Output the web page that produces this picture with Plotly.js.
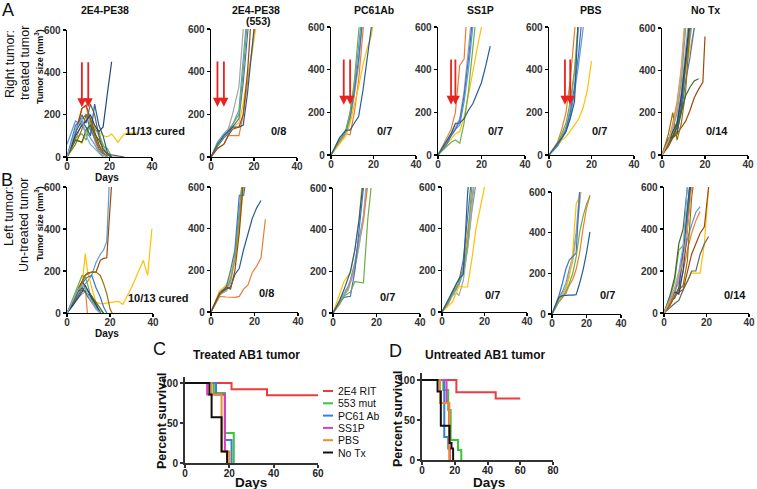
<!DOCTYPE html>
<html><head><meta charset="utf-8">
<script src="https://cdn.plot.ly/plotly-3.0.1.min.js"></script>
<style>html,body{margin:0;padding:0;background:#fff}#chart{width:757px;height:489px}</style>
</head><body><div id="chart"></div>
<script>
// ---------- DATA ----------
const lineColors = ['#5B9BD5','#ED7D31','#A5A5A5','#FFC000','#4472C4','#70AD47','#255E91','#9E480E','#636363','#997300','#264478','#43682B','#7CAFDD','#F1975A'];
const panelTitles = ['2E4-PE38','2E4-PE38','PC61Ab','SS1P','PBS','No Tx'];
const curedTop = ['11/13 cured','0/8','0/7','0/7','0/7','0/14'];
const curedBottom = ['10/13 cured','0/8','0/7','0/7','0/7','0/14'];
const treatDays = [[7,10],[3,6],[6,9],[6,8],[7.5,10]];
const sizeTicks = [0,200,400,600];
const dayTicks = [0,20,40];

// Top row: right (treated) tumor
const a1Days = [0,4,7,9,11,13,15,17,19,21,24,27,30,34];
const a1Vals = [
 [60,170,150,120,90,60,20,0],
 [0,120,230,240,150,80,30,0],
 [0,80,160,100,180,140,100,60,10,0,0],
 [0,90,65,110,140,150,120,100,95,110,70,110,113,113],
 [0,150,180,200,130,90,40,10,0],
 [0,90,110,80,170,130,120,50,40,0],
 [0,120,170,140,100,250,150,100,20,0],
 [0,110,229,245,180,120,60,20,0],
 [0,120,200,160,250,200,100,30,15,10,5,0],
 [0,60,130,200,180,100,50,20,0],
 [0,100,150,170,200,150,120,142,300,450],
 [0,80,70,130,150,110,80,40,10,0],
 [0,130,180,100,60,40,20,10,0]
];
const a2Days = [0,3,6,8,10,13,15,17,19,21,23];
const a2Vals = [
 [0,70,110,130,150,220,450,700],
 [0,40,60,100,100,100,200,350,480,650],
 [0,60,100,130,200,330,600,800],
 [0,60,100,120,140,160,250,380,480,620],
 [0,50,90,110,140,180,350,600,800],
 [0,50,100,120,150,200,400,650],
 [0,60,100,120,140,140,150,300,500,700],
 [0,40,60,100,130,140,200,400,700]
];
const a3Days = [0,4,7,9,11,13,15,17,19,21];
const a3Vals = [
 [0,60,120,200,320,500,700],
 [0,60,100,95,200,350,600,800],
 [0,65,100,160,280,420,650],
 [0,50,90,150,230,320,420,500,560,700],
 [0,70,110,180,300,450,650],
 [0,70,110,200,350,600,800],
 [0,80,117,117,150,180,300,450,600,800]
];
const a4Days = [0,4,6,8,10,12,14,16,18,20,22,24];
const a4Vals = [
 [0,60,90,120,140,250,400,600,800],
 [0,80,120,200,420,450,800],
 [0,60,100,130,170,300,500,700],
 [0,50,80,100,110,180,280,400,500,600,750],
 [0,50,90,120,160,280,450,650],
 [0,40,60,70,55,150,300,500,700],
 [0,70,100,148,150,170,210,240,290,340,420,510]
];
const a5Days = [0,4,6,8,10,12,14,16,18,20];
const a5Vals = [
 [0,40,75,110,180,290,430,580,750],
 [0,60,120,200,350,600,800],
 [0,55,90,130,220,380,600,800],
 [0,50,70,85,110,140,170,220,300,440],
 [0,45,80,120,200,320,480,700],
 [0,50,100,150,250,400,650],
 [0,50,80,110,170,250,700]
];
const a6Days = [0,3,5,7,9,11,13,15,17,19,20];
const a6Vals = [
 [0,50,90,130,230,400,560,700],
 [0,60,150,250,400,650],
 [0,60,100,160,300,500,700],
 [0,60,100,150,250,400,500,600],
 [0,80,90,110,200,350,460,600],
 [0,60,120,200,350,600],
 [0,80,85,100,230,440,600],
 [0,40,80,100,130,160,210,270,310,343,560],
 [0,50,90,140,260,420,600],
 [0,100,200,70,150,300,600],
 [0,70,110,150,280,460,650],
 [0,50,90,130,200,280,320,350,360],
 [0,70,130,210,380,650],
 [0,65,140,230,420,700]
];

// Bottom row: left (untreated) tumor
const b1Days = [0,3,5,7,8.5,9.5,11.5,13.5,15.5,17,18.5,20,21,24,26,30,35.5,37.5,39.5];
const b1Vals = [
 [0,50,90,120,140,150,180,240,280,300,340,700],
 [0,60,100,150,120,0],
 [0,40,70,90,100,90,60,20,0],
 [0,60,100,130,283,203,120,52,44,45,48,52,52,55,41,120,251,179,401],
 [0,50,100,140,160,170,179,120,76,30,0],
 [0,80,130,179,171,140,60,30,10,0],
 [0,60,110,150,130,110,80,40,0],
 [0,60,110,150,180,190,195,195,251,260,263,500,650],
 [0,40,80,110,100,80,50,20,0],
 [0,50,100,150,179,185,195,195,179,140,92,20,0],
 [0,40,70,100,130,110,70,40,0],
 [0,60,100,120,100,90,80,50,20,0],
 [0,70,110,130,120,90,50,20,0]
];
const b2Days = [0,4,7,9,11,13,15,17,19,21,23,25];
const b2Vals = [
 [0,100,110,150,280,500,700],
 [0,75,72,70,70,75,110,130,190,220,260,445],
 [0,85,100,140,260,420,650],
 [0,100,130,170,260,400,600,800],
 [0,90,120,200,300,560,560,700],
 [0,80,110,160,250,450,700],
 [0,90,110,120,180,210,300,380,450,500,535],
 [0,90,120,110,200,380,650]
];
const b3Days = [0,3,5,7,8,10,12,14,16,18];
const b3Vals = [
 [0,55,95,130,160,240,360,460,650],
 [0,40,80,120,150,220,330,440,620],
 [0,50,85,110,140,210,320,470,700],
 [0,90,150,180,190,300,450,700],
 [0,50,75,78,80,200,400,600,750],
 [0,50,80,95,100,150,148,145,450,650],
 [0,60,110,170,200,300,450,650]
];
const b4Days = [0,3,5,7,8,10,12,14,16,18,20];
const b4Vals = [
 [0,40,80,110,130,190,300,480,620],
 [0,45,90,120,140,220,380,560,700],
 [0,60,80,90,80,150,300,500,700],
 [0,30,50,100,125,120,120,250,400,500,600],
 [0,50,100,140,150,250,450,650],
 [0,50,90,120,140,200,330,600],
 [0,60,100,140,160,180,560,800]
];
const b5Days = [0,4,6,8,10,12,14,16,18,20,22];
const b5Vals = [
 [0,80,110,150,220,280,400,600],
 [0,60,80,100,140,170,220,300,420,520,584],
 [0,70,100,130,190,260,380,550,700],
 [0,70,90,120,180,300,540,580,700],
 [0,90,150,220,265,285,300,600],
 [0,60,80,110,150,200,280,400,480,540,580],
 [0,80,90,93,93,93,95,150,216,300,404]
];
const b6Days = [0,3,5,7,9,11,13,15,17,19,21];
const b6Vals = [
 [0,50,100,150,250,350,420,480,507],
 [0,50,90,120,200,300,380,440,483],
 [0,55,100,150,250,420,650],
 [0,40,80,110,130,150,190,190,190,330,600],
 [0,60,100,180,300,500,700],
 [0,80,150,300,320,450,700],
 [0,60,70,120,280,500,700],
 [0,40,80,100,110,200,280,330,380,410,600],
 [0,30,45,60,110,150,200,200,280,330,364],
 [0,50,80,110,130,250,550,700],
 [0,70,100,90,200,400,650],
 [0,90,170,330,400,600],
 [0,70,120,200,320,600],
 [0,60,110,180,250,400,600]
];

// Survival
const survNames = ['2E4 RIT','553 mut','PC61 Ab','SS1P','PBS','No Tx'];
const survColors = ['#EE3B3B','#3CC43C','#3B7DDD','#D63FC0','#F28C28','#111111'];
const cDays = [[0,21,37,60],[0,13,18,22],[0,14,18,21],[0,10,18,19],[0,12,16.5,20],[0,11,12,16.5,19]];
const cSurv = [[100,92.3,84.6,84.6],[100,87.5,37.5,0],[100,85.7,28.6,0],[100,85.7,14.3,0],[100,85.7,14.3,0],[100,85.7,57.1,14.3,0]];
const dDays = [[0,21,45,60],[0,13,16,17.5,22,24],[0,13.6,16,17],[0,15,16.5,17],[0,11,16.7],[0,9.5,11.5,16.8,18,19]];
const dSurv = [[100,84.6,76.9,76.9],[100,87.5,62.5,25,12.5,0],[100,28.6,14.3,0],[100,71.4,14.3,0],[100,71.4,0],[100,85.7,42.9,21.4,14.3,0]];
const survYTicks = [0,50,100];
const cXTicks = [0,20,40,60];
const dXTicks = [0,20,40,60,80];

// ---------- LAYOUT ----------
const W = 757, H = 489;
const fx = p => p / W;
const fy = p => 1 - p / H;
const FONT = 'Liberation Sans, Arial, sans-serif';

const growth = [
 {days:a1Days, vals:a1Vals, xd:[67,152], yd:[30,157]},
 {days:a2Days, vals:a2Vals, xd:[211,297], yd:[29,157]},
 {days:a3Days, vals:a3Vals, xd:[331,416], yd:[27,155]},
 {days:a4Days, vals:a4Vals, xd:[438,525], yd:[27,155]},
 {days:a5Days, vals:a5Vals, xd:[549,634], yd:[27,155]},
 {days:a6Days, vals:a6Vals, xd:[662,748], yd:[28,155]},
 {days:b1Days, vals:b1Vals, xd:[67,153], yd:[187,313]},
 {days:b2Days, vals:b2Vals, xd:[211,298], yd:[187,312]},
 {days:b3Days, vals:b3Vals, xd:[333,420], yd:[188,313]},
 {days:b4Days, vals:b4Vals, xd:[442,527], yd:[187,312]},
 {days:b5Days, vals:b5Vals, xd:[552,621], yd:[192,314]},
 {days:b6Days, vals:b6Vals, xd:[664,749], yd:[187,313]}
];

const traces = [];
const layout = {
  width: W, height: H, margin:{l:0,r:0,t:0,b:0},
  paper_bgcolor:'#fff', plot_bgcolor:'rgba(0,0,0,0)',
  showlegend:false, font:{family:FONT, color:'#111'},
  annotations:[], shapes:[]
};
const tickFont = {family:FONT, size:10, color:'#333', weight:'bold'};

function axName(k){ return k===1 ? '' : String(k); }

growth.forEach((g, idx) => {
  const k = idx + 1, s = axName(k);
  layout['xaxis'+s] = {domain:[fx(g.xd[0]), fx(g.xd[1])], range:[0,40], tickvals:dayTicks, anchor:'y'+s,
    showline:true, linecolor:'#000', linewidth:1.3, ticks:'outside', ticklen:3, tickwidth:1.3, tickcolor:'#000',
    ticklabelstandoff:-3,
    showgrid:false, zeroline:false, tickfont:tickFont, fixedrange:true};
  layout['yaxis'+s] = {domain:[fy(g.yd[1]), fy(g.yd[0])], range:[0,600], tickvals:sizeTicks, anchor:'x'+s,
    showline:true, linecolor:'#000', linewidth:1.3, ticks:'outside', ticklen:3, tickwidth:1.3, tickcolor:'#000',
    showgrid:false, zeroline:false, tickfont:tickFont, fixedrange:true};
  g.vals.forEach((v, i) => {
    traces.push({x:g.days.slice(0, v.length), y:v, type:'scatter', mode:'lines', xaxis:'x'+s, yaxis:'y'+s,
      line:{color:lineColors[i % lineColors.length], width:1.2}, hoverinfo:'skip'});
  });
});

// treatment arrows (top row)
treatDays.forEach((td, p) => {
  const s = axName(p+1);
  td.forEach(d => {
    layout.annotations.push({x:d, y:235, ax:d, ay:455, xref:'x'+s, yref:'y'+s, axref:'x'+s, ayref:'y'+s,
      showarrow:true, arrowhead:2, arrowsize:1, arrowwidth:1.8, arrowcolor:'#E8231F', text:''});
  });
});

// survival axes
function survAxes(k, xd, yd, yTop, xMax, xt){
  const s = axName(k);
  const common = {showline:true, linecolor:'#333', linewidth:2, ticks:'outside', ticklen:3, tickwidth:2, tickcolor:'#333',
    showgrid:false, zeroline:false, tickfont:{family:FONT, size:10, color:'#222', weight:'bold'}, fixedrange:true};
  layout['xaxis'+s] = Object.assign({domain:[fx(xd[0]),fx(xd[1])], range:[0,xMax], tickvals:xt, anchor:'y'+s, ticklabelstandoff:-3}, common);
  layout['yaxis'+s] = Object.assign({domain:[fy(yd[1]),fy(yd[0])], range:[0,yTop], tickvals:survYTicks, anchor:'x'+s}, common);
}
survAxes(13, [185,318], [377,463], 107.5, 60, cXTicks);
survAxes(14, [422,553], [373,460], 108.75, 80, dXTicks);

[[cDays,cSurv,'13'],[dDays,dSurv,'14']].forEach(([dd, ss, s]) => {
  dd.forEach((x, i) => {
    traces.push({x:x, y:ss[i], type:'scatter', mode:'lines', xaxis:'x'+s, yaxis:'y'+s,
      line:{color:survColors[i], width:2, shape:'hv'}, hoverinfo:'skip', cliponaxis:false});
  });
});
// legend for survival (keys + text)
survNames.forEach((n, i) => {
  const yy = 391 + i*12.3;
  layout.shapes.push({type:'line', xref:'paper', yref:'paper', x0:fx(323), x1:fx(333), y0:fy(yy), y1:fy(yy),
    line:{color:survColors[i], width:2}});
  layout.annotations.push({xref:'paper', yref:'paper', x:fx(336), y:fy(yy), xanchor:'left', yanchor:'middle',
    text:n, showarrow:false, font:{family:FONT, size:10.5, color:'#111'}});
});

// ---------- TEXT ----------
function txt(t, x, y, size, opts){
  layout.annotations.push(Object.assign({xref:'paper', yref:'paper', x:fx(x), y:fy(y), xanchor:'center', yanchor:'middle',
    text:t, showarrow:false, font:{family:FONT, size:size, color:'#111'}}, opts||{}));
}
txt('A', 8, 10, 18);
txt('B', 7, 180, 18);
txt('C', 159, 349, 18);
txt('D', 395, 351, 18);
const titleX = [105, 256, 374, 480, 591, 705];
panelTitles.forEach((t, i) => txt('<b>'+t+'</b>', titleX[i], 10, 10.5));
txt('<b>(553)</b>', 258, 21, 10.5);
const curedTopX = [155, 278, 384, 495, 599, 717];
curedTop.forEach((t, i) => txt('<b>'+t+'</b>', curedTopX[i], 131, 11));
const curedBotX = [158, 266, 387, 492, 607, 735];
const curedBotY = [298, 293, 297, 295, 295, 295];
curedBottom.forEach((t, i) => txt('<b>'+t+'</b>', curedBotX[i], curedBotY[i], 11));
txt('<b>Days</b>', 107, 177, 10);
txt('<b>Days</b>', 107, 333, 10);
txt('Right tumor:', 10, 64, 12.5, {textangle:-90});
txt('treated tumor', 25, 63, 12.5, {textangle:-90});
txt('<b>Tumor size (mm<sup>3</sup>)</b>', 39, 67, 9, {textangle:-90});
txt('Left tumor:', 9, 216, 12.5, {textangle:-90});
txt('Un-treated tumor', 24, 225, 12.5, {textangle:-90});
txt('<b>Tumor size (mm<sup>3</sup>)</b>', 39, 224, 9, {textangle:-90});
txt('<b>Treated AB1 tumor</b>', 247, 355, 12);
txt('<b>Untreated AB1 tumor</b>', 485, 355, 12);
txt('<b>Percent survival</b>', 162, 421, 12.5, {textangle:-90});
txt('<b>Percent survival</b>', 398, 418, 12.5, {textangle:-90});
txt('<b>Days</b>', 251, 482, 13.5);
txt('<b>Days</b>', 489, 482, 13.5);

Plotly.newPlot('chart', traces, layout, {staticPlot:true, displayModeBar:false});
</script></body></html>
